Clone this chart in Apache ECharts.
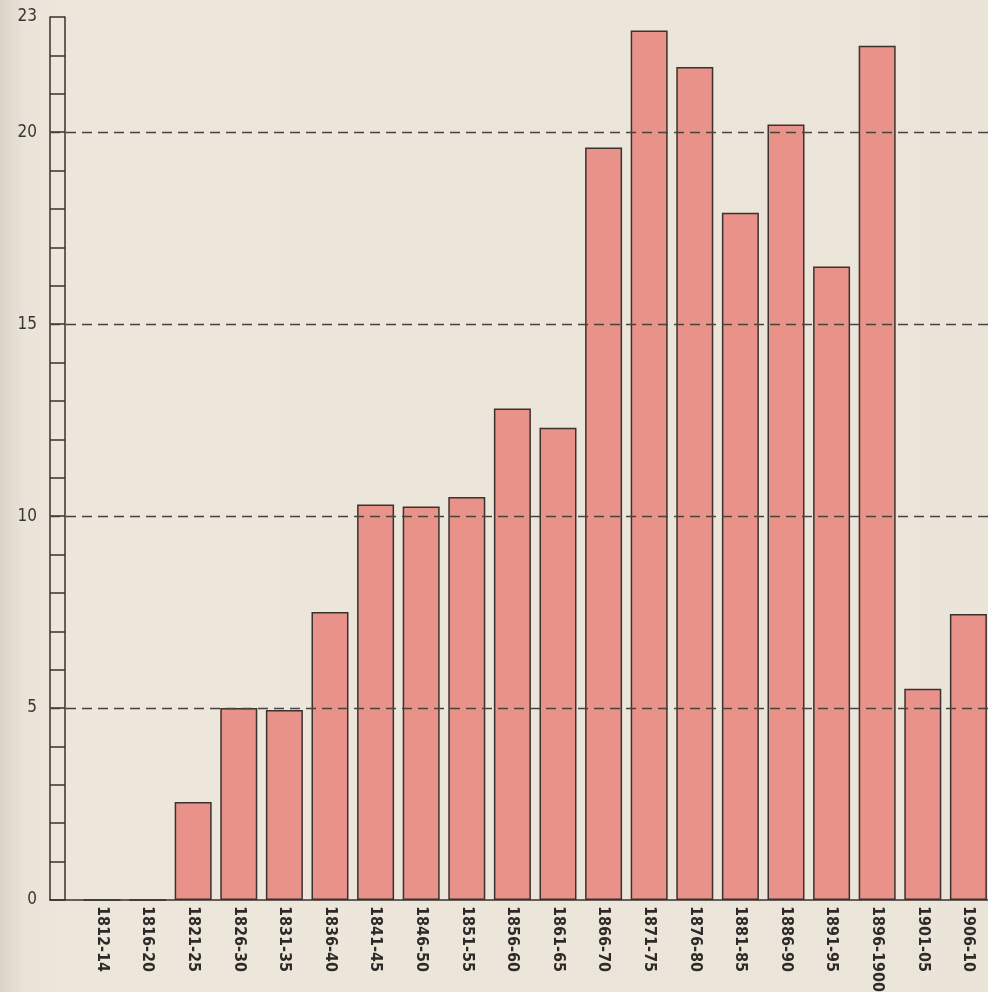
<!DOCTYPE html>
<html>
<head>
<meta charset="utf-8">
<script src="https://cdn.jsdelivr.net/npm/echarts@6/dist/echarts.min.js"></script>
<style>
  html, body { margin: 0; padding: 0; background: #ece6db; }
  #chart { width: 988px; height: 992px; }
</style>
</head>
<body>
<div id="chart"></div>
<script>
const categories = ['1812-14','1816-20','1821-25','1826-30','1831-35','1836-40','1841-45','1846-50','1851-55','1856-60','1861-65','1866-70','1871-75','1876-80','1881-85','1886-90','1891-95','1896-1900','1901-05','1906-10'];
const values = [0, 0, 2.55, 5.0, 4.95, 7.5, 10.3, 10.25, 10.5, 12.8, 12.3, 19.6, 22.65, 21.7, 17.9, 20.2, 16.5, 22.25, 5.5, 7.45];
const yTickLabels = [0, 5, 10, 15, 20, 23];
const refLines = [5, 10, 15, 20];

const chart = echarts.init(document.getElementById('chart'), null, { renderer: 'canvas' });
const ink = '#3a322e';
const labelFont = "'DejaVu Sans Condensed', 'Liberation Sans Narrow', 'Liberation Sans', sans-serif";

const option = {
  backgroundColor: new echarts.graphic.LinearGradient(0, 0, 1, 0, [
    { offset: 0, color: '#d9d3c8' },
    { offset: 0.025, color: '#e9e3d8' },
    { offset: 0.06, color: '#ece6db' },
    { offset: 1, color: '#ebe4d9' }
  ]),
  animation: false,
  grid: { left: 50, right: 0, top: 17, bottom: 92, containLabel: false, outerBoundsMode: 'none' },
  xAxis: {
    type: 'value',
    min: -1.14,
    max: 19.43,
    axisLine: { show: true, onZero: false, lineStyle: { color: ink, width: 1.5 } },
    axisTick: { show: false },
    splitLine: { show: false },
    axisLabel: {
      customValues: categories.map((c, i) => i),
      formatter: v => categories[Math.round(v)] || '',
      rotate: -90,
      margin: 6,
      color: '#2e2a28',
      fontFamily: labelFont,
      fontSize: 16,
      fontWeight: 'bold'
    }
  },
  yAxis: [
    {
      type: 'value',
      min: 0, max: 23, interval: 1,
      position: 'left',
      axisLine: { show: true, onZero: false, lineStyle: { color: ink, width: 1.5 } },
      axisTick: { show: true, inside: true, length: 15, lineStyle: { color: ink, width: 1.5 } },
      splitLine: { show: false },
      axisLabel: {
        margin: 13,
        color: '#3a3634',
        fontFamily: labelFont,
        fontSize: 17,
        formatter: v => (yTickLabels.indexOf(v) >= 0 ? String(v) : '')
      }
    },
    {
      type: 'value',
      min: 0, max: 23, interval: 1,
      position: 'left',
      offset: -15,
      axisLine: { show: true, onZero: false, lineStyle: { color: ink, width: 1.5 } },
      axisTick: { show: false },
      axisLabel: { show: false },
      splitLine: { show: false }
    }
  ],
  series: [
    {
      type: 'bar',
      xAxisIndex: 0,
      yAxisIndex: 0,
      barWidth: 37,
      data: values.map((v, i) => [i, v]),
      itemStyle: { color: '#e8928a', borderColor: ink, borderWidth: 1.5 },
      markLine: {
        silent: true,
        symbol: 'none',
        label: { show: false },
        lineStyle: { color: '#4a4240', width: 1.3, type: [10, 6] },
        data: refLines.map(v => ({ yAxis: v }))
      }
    }
  ]
};
chart.setOption(option);
</script>
</body>
</html>
